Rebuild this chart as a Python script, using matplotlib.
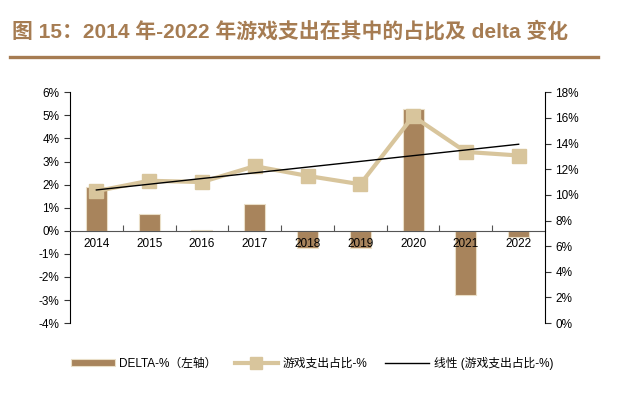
import numpy as np
import matplotlib.pyplot as plt
from matplotlib.lines import Line2D

plt.rcParams['font.family'] = ['Liberation Sans', 'Noto Sans CJK SC', 'DejaVu Sans']

years = ['2014', '2015', '2016', '2017', '2018', '2019', '2020', '2021', '2022']
delta = [1.88, 0.72, 0.02, 1.16, -0.75, -0.74, 5.29, -2.76, -0.27]      # 左轴, %
share = [10.29, 11.10, 11.00, 12.24, 11.48, 10.83, 16.13, 13.35, 13.07]  # 右轴, %

bar_color = '#A8845C'
line_color = '#D8C59C'
title_color = '#A67C52'

x = np.arange(len(years))
fit = np.polyval(np.polyfit(x, share, 1), x)

fig = plt.figure(figsize=(6.36, 3.96), dpi=100)
ax = fig.add_axes([0.110, 0.184, 0.747, 0.583])
ax2 = ax.twinx()

ax.bar(x, delta, width=0.4, color=bar_color, edgecolor='#EADFC8', linewidth=0.8,
       label='DELTA-%（左轴）', zorder=1)
ax2.plot(x, share, color=line_color, linewidth=3, marker='s', markersize=10,
         label='游戏支出占比-%', zorder=3)
ax2.plot(x, fit, color='black', linewidth=1, label='线性 (游戏支出占比-%)', zorder=4)

ax.set_xlim(-0.5, 8.5)
ax.set_ylim(-4, 6)
ax2.set_ylim(0, 18)
ax.set_yticks(np.arange(-4, 7, 1))
ax.set_yticklabels([f'{v}%' for v in range(-4, 7)])
ax2.set_yticks(np.arange(0, 19, 2))
ax2.set_yticklabels([f'{v}%' for v in range(0, 19, 2)])

# category axis sits on the zero line, labels drawn over the bars
ax.spines['bottom'].set_position(('data', 0))
ax.spines['bottom'].set_color('#555555')
ax.spines['bottom'].set_zorder(3)
ax.xaxis.set_zorder(3)
ax.set_xticks(np.arange(0.5, 8.5, 1))
ax.set_xticklabels([])
ax.tick_params(axis='x', which='major', direction='in', length=4, color='#555555')
ax.set_xticks(x, minor=True)
ax.set_xticklabels(years, minor=True)
ax.tick_params(axis='x', which='minor', length=0, pad=5, labelsize=8.5)

for a in (ax, ax2):
    a.spines['top'].set_visible(False)
    a.tick_params(axis='y', length=4, labelsize=8.5, color='#333333')
ax2.spines['bottom'].set_visible(False)
ax.spines['right'].set_visible(False)
ax2.spines['left'].set_visible(False)
ax2.patch.set_visible(False)
ax.set_zorder(0)
ax2.set_zorder(1)

# title and rule
fig.text(0.019, 0.922, '图 15：2014 年-2022 年游戏支出在其中的占比及 delta 变化',
         fontsize=15, fontweight='bold', color=title_color, va='center')
fig.add_artist(Line2D([0.016, 0.940], [0.856, 0.856], color=title_color, linewidth=2.4))

h1, l1 = ax.get_legend_handles_labels()
h2, l2 = ax2.get_legend_handles_labels()
fig.legend(h1 + h2, l1 + l2, loc='center left', bbox_to_anchor=(0.095, 0.083), ncol=3,
           frameon=False, fontsize=8.5, handlelength=3.7, columnspacing=1.5,
           handletextpad=0.4, handleheight=0.5, markerscale=0.8)

plt.savefig('out.png', dpi=100)
